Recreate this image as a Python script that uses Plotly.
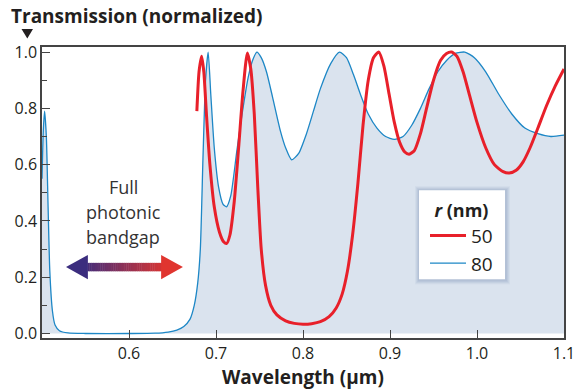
import plotly.graph_objects as go

# ---------------- data ----------------
wl_80 = [0.500, 0.5015, 0.503, 0.505, 0.507, 0.509, 0.512, 0.515, 0.520, 0.530, 0.550,
         0.600, 0.630, 0.645, 0.655, 0.663, 0.670, 0.675, 0.679, 0.682, 0.685, 0.688,
         0.691, 0.694, 0.698, 0.703, 0.708, 0.712, 0.717, 0.724, 0.730, 0.737, 0.742,
         0.747, 0.752, 0.758, 0.765, 0.774, 0.780, 0.787, 0.795, 0.804, 0.812, 0.820,
         0.832, 0.842, 0.850, 0.858, 0.866, 0.875, 0.885, 0.895, 0.905, 0.915, 0.925,
         0.935, 0.945, 0.955, 0.965, 0.975, 0.986, 0.997, 1.010, 1.025, 1.040, 1.055,
         1.070, 1.085, 1.100]
tr_80 = [0.55, 0.72, 0.79, 0.70, 0.45, 0.22, 0.08, 0.03, 0.01, 0.002, 0.0,
         0.0, 0.001, 0.005, 0.012, 0.025, 0.05, 0.10, 0.18, 0.30, 0.62, 0.90,
         1.00, 0.85, 0.66, 0.52, 0.46, 0.45, 0.49, 0.65, 0.78, 0.91, 0.97,
         1.00, 0.98, 0.93, 0.84, 0.72, 0.66, 0.617, 0.64, 0.71, 0.79, 0.87,
         0.96, 1.00, 0.98, 0.92, 0.85, 0.78, 0.73, 0.70, 0.69, 0.70, 0.74,
         0.80, 0.87, 0.93, 0.97, 0.995, 1.00, 0.98, 0.93, 0.85, 0.78, 0.73,
         0.71, 0.70, 0.705]

wl_50 = [0.678, 0.6805, 0.6835, 0.686, 0.689, 0.693, 0.698, 0.704, 0.709, 0.7123,
         0.716, 0.721, 0.726, 0.731, 0.736, 0.740, 0.744, 0.748, 0.752, 0.757,
         0.763, 0.770, 0.780, 0.790, 0.800, 0.810, 0.820, 0.830, 0.838, 0.845,
         0.851, 0.857, 0.863, 0.869, 0.875, 0.881, 0.887, 0.893, 0.899, 0.905,
         0.911, 0.917, 0.922, 0.928, 0.935, 0.942, 0.950, 0.958, 0.965, 0.971,
         0.977, 0.984, 0.992, 1.000, 1.010, 1.020, 1.030, 1.037, 1.045, 1.053,
         1.061, 1.070, 1.080, 1.090, 1.100]
tr_50 = [0.79, 0.93, 0.985, 0.93, 0.78, 0.60, 0.45, 0.36, 0.325, 0.32,
         0.35, 0.47, 0.66, 0.86, 0.997, 0.94, 0.78, 0.52, 0.30, 0.17,
         0.10, 0.066, 0.045, 0.036, 0.033, 0.035, 0.042, 0.06, 0.09, 0.14,
         0.22, 0.35, 0.53, 0.74, 0.90, 0.98, 1.00, 0.95, 0.85, 0.75,
         0.68, 0.645, 0.637, 0.65, 0.71, 0.80, 0.90, 0.97, 0.995, 1.00,
         0.985, 0.93, 0.84, 0.75, 0.66, 0.60, 0.575, 0.57, 0.58, 0.61,
         0.66, 0.73, 0.81, 0.88, 0.94]

x_ticks = [0.6, 0.7, 0.8, 0.9, 1.0, 1.1]
y_ticks = [0.0, 0.2, 0.4, 0.6, 0.8, 1.0]
series_names = ["50", "80"]
gap_label = ["Full", "photonic", "bandgap"]

FONT = "Open Sans"
TXT = "#231f20"
RED = "#e8202a"
BLUE = "#1d87c6"
FILL = "#dae3ee"

# plot-area geometry (pixels)
L, R, T, B = 42, 564, 47, 337.7
PW, PH = R - L, B - T
def px(x):
    return (x - L) / PW
def py(y):
    return (B - y) / PH

SPL = dict(shape="spline", smoothing=0.6)
fig = go.Figure()
# shaded area under the 80 nm curve
fig.add_trace(go.Scatter(x=wl_80, y=tr_80, mode="lines", showlegend=False, hoverinfo="skip",
                         line=dict(color="rgba(0,0,0,0)", width=0, **SPL),
                         fill="tozeroy", fillcolor=FILL))
fig.add_trace(go.Scatter(x=wl_80, y=tr_80, name=series_names[1], mode="lines",
                         line=dict(color=BLUE, width=1.3, **SPL), legendrank=2))
fig.add_trace(go.Scatter(x=wl_50, y=tr_50, name=series_names[0], mode="lines",
                         line=dict(color=RED, width=3, **SPL), legendrank=1))

# ---- gradient double arrow (decoration) ----
shapes = []
x0, x1 = 0.5276, 0.662      # tips
head = 0.0246               # head length (in x units)
yc, hh, sh = 0.236, 0.043, 0.015
c0 = (59, 45, 126)
c1 = (224, 53, 47)
def col(t):
    return "rgb(%d,%d,%d)" % tuple(round(c0[i] + (c1[i] - c0[i]) * t) for i in range(3))
n = 40
sx0, sx1 = x0 + head, x1 - head
for i in range(n):
    a = sx0 + (sx1 - sx0) * i / n
    b = sx0 + (sx1 - sx0) * (i + 1) / n + 0.0005
    t = (i + 0.5) / n
    shapes.append(dict(type="rect", xref="x", yref="y", x0=a, x1=b, y0=yc - sh, y1=yc + sh,
                       fillcolor=col(0.08 + 0.84 * t), line=dict(width=0), layer="above"))
shapes.append(dict(type="path", xref="x", yref="y", layer="above", line=dict(width=0),
                   fillcolor=col(0.0),
                   path=f"M{x0},{yc} L{sx0 + 0.0005},{yc + hh} L{sx0 + 0.0005},{yc - hh} Z"))
shapes.append(dict(type="path", xref="x", yref="y", layer="above", line=dict(width=0),
                   fillcolor=col(1.0),
                   path=f"M{x1},{yc} L{sx1 - 0.0005},{yc + hh} L{sx1 - 0.0005},{yc - hh} Z"))

# ---- small downward triangle under the y-axis title ----
shapes.append(dict(type="path", xref="paper", yref="paper", layer="above", line=dict(width=0),
                   fillcolor=TXT,
                   path=f"M{px(21.5)},{py(29)} L{px(33)},{py(29)} L{px(27.3)},{py(38.5)} Z"))

# ---- legend box shadow (decoration) ----
LX0, LX1, LY0, LY1 = 419, 505, 190, 279
for k, op in enumerate([0.08, 0.10, 0.12, 0.14]):
    g = 4 - k
    shapes.append(dict(type="rect", xref="paper", yref="paper", layer="above",
                       x0=px(LX0 - g), x1=px(LX1 + g + 1),
                       y0=py(LY1 + g + 1), y1=py(LY0 - g),
                       fillcolor="rgba(120,140,180,%.2f)" % op, line=dict(width=0)))
shapes.append(dict(type="rect", xref="paper", yref="paper", layer="above",
                   x0=px(LX0), x1=px(LX1), y0=py(LY1), y1=py(LY0),
                   fillcolor="white", line=dict(width=0)))

annotations = [
    dict(text="<b>Transmission (normalized)</b>", xref="paper", yref="paper",
         x=px(9), y=py(16), xanchor="left", yanchor="middle",
         showarrow=False, font=dict(size=19, color=TXT)),
    dict(text="<b>Wavelength (µm)</b>", xref="paper", yref="paper",
         x=px(303), y=py(377), xanchor="center", yanchor="middle",
         showarrow=False, font=dict(size=19, color=TXT)),
]
for k, s in enumerate(gap_label):
    annotations.append(dict(text=s, xref="paper", yref="paper", x=px(123), y=py(187 + 25 * k),
                            xanchor="center", yanchor="middle", showarrow=False,
                            font=dict(size=18, color="#333")))

fig.update_layout(
    width=575, height=389,
    margin=dict(l=L, r=575 - R, t=T, b=389 - B),
    paper_bgcolor="white", plot_bgcolor="white",
    font=dict(family=FONT, color=TXT, size=16),
    shapes=shapes,
    showlegend=True,
    legend=dict(x=px(LX0 + 6), y=py(LY0 + 3), xanchor="left", yanchor="top",
                bgcolor="rgba(255,255,255,0)", borderwidth=0,
                title=dict(text="<b><i>r</i> (nm)</b>", font=dict(size=18, family=FONT, color=TXT),
                           side="top center"),
                font=dict(size=19, family=FONT, color=TXT),
                itemwidth=36, tracegroupgap=0),
    xaxis=dict(range=[0.5, 1.1], tickvals=x_ticks, ticktext=["%.1f" % v for v in x_ticks],
               ticks="inside", ticklen=8, tickwidth=1.3, tickcolor="#444",
               showline=True, linecolor="#444", linewidth=1.5, mirror=True, automargin=False,
               ticklabeloverflow="allow",
               showgrid=False, zeroline=False, tickfont=dict(size=16, color=TXT)),
    yaxis=dict(range=[-0.016, 1.018], tickvals=y_ticks, ticktext=["%.1f" % v for v in y_ticks],
               ticks="inside", ticklen=8, tickwidth=1.3, tickcolor="#444",
               minor=dict(dtick=0.1, tick0=0, ticks="inside", ticklen=5, tickcolor="#444"),
               showline=True, linecolor="#444", linewidth=1.5, mirror=True, automargin=False,
               ticklabeloverflow="allow",
               showgrid=False, zeroline=False, tickfont=dict(size=16, color=TXT)),
    annotations=annotations,
)

fig.write_html("out.html", config={"displayModeBar": False},
               post_script="document.body.style.margin='0';")
